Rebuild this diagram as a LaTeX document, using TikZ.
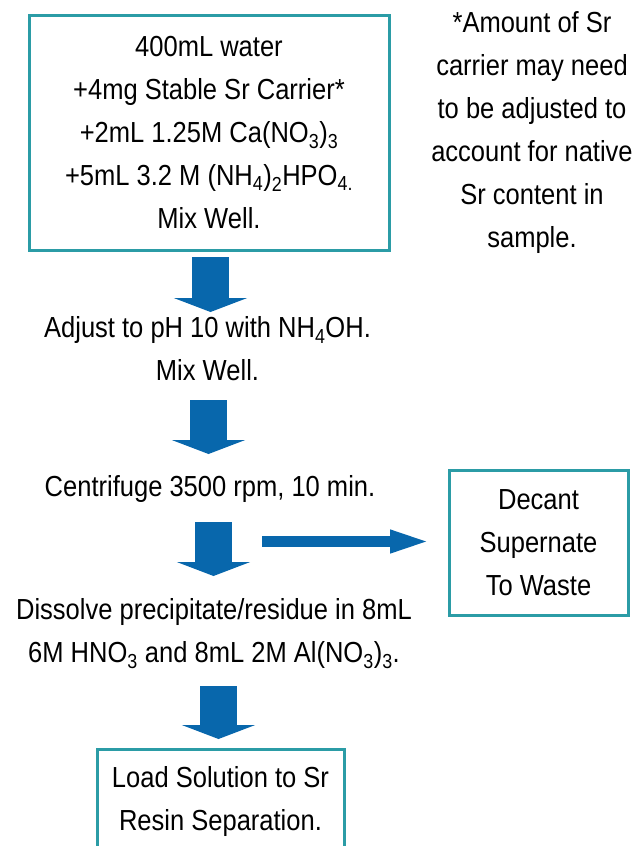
\documentclass[tikz,border=0pt]{standalone}
\usepackage{fontspec}
\setmainfont[FakeStretch=0.88]{Liberation Sans}
\usetikzlibrary{arrows.meta,positioning}
\definecolor{boxteal}{HTML}{2B9CA6}
\definecolor{arrowblue}{HTML}{0867AC}

\begin{document}
\begin{tikzpicture}[x=1pt,y=-1pt,
    every node/.style={font=\fontsize{29}{43}\selectfont, align=center, inner sep=0pt},
    stepbox/.style={draw=boxteal, line width=3pt},
    fatarrow/.style={arrowblue, line width=37pt, -{Triangle[width=73pt,length=14pt]}},
    thinarrow/.style={arrowblue, line width=11pt, -{Triangle[width=20pt,length=43pt]}}]
            \clip (0,0) rectangle (639,846);
            % 
            \node[stepbox, minimum width=360pt, minimum height=235pt] (mix) at (209,132.5)
                {400mL water\\+4mg Stable Sr Carrier*\\+2mL 1.25M Ca(NO\textsubscript{3})\textsubscript{3}\\+5mL 3.2 M (NH\textsubscript{4})\textsubscript{2}HPO\textsubscript{4.}\\Mix Well.};
            \node (note) at (532,132.5) {*Amount of Sr\\carrier may need\\to be adjusted to\\account for native\\Sr content in\\sample.};
            
            % 
            \node (adjust) at (207.5,349) {Adjust to pH 10 with NH\textsubscript{4}OH.\\Mix Well.};
            \node (spin) at (210,489) {Centrifuge 3500 rpm, 10 min.};
            \node (dissolve) at (214,633.5) {Dissolve precipitate/residue in 8mL\\6M HNO\textsubscript{3} and 8mL 2M Al(NO\textsubscript{3})\textsubscript{3}.};
            \node[stepbox, minimum width=179pt, minimum height=145pt] (decant) at (538.5,542.5) {Decant\\Supernate\\To Waste};
            \node[stepbox, minimum width=247pt, minimum height=104pt] (load) at (220.5,801) {Load Solution to Sr\\Resin Separation.};
            
            % Arrows
            \coordinate (a1) at (210.5,257);
            \coordinate (b1) at (210.5,312);
            \coordinate (a2) at (208.5,400);
            \coordinate (b2) at (208.5,454);
            \coordinate (a3) at (213.5,522);
            \coordinate (b3) at (213.5,576);
            \coordinate (a4) at (218.5,686);
            \coordinate (b4) at (218.5,739);
            \coordinate (w1) at (262,541.5);
            \coordinate (w2) at (433,541.5);
            \draw[fatarrow] (a1) -- (b1);
            \draw[fatarrow] (a2) -- (b2);
            \draw[fatarrow] (a3) -- (b3);
            \draw[fatarrow] (a4) -- (b4);
            \draw[thinarrow] (w1) -- (w2);
            
\end{tikzpicture}
\end{document}
